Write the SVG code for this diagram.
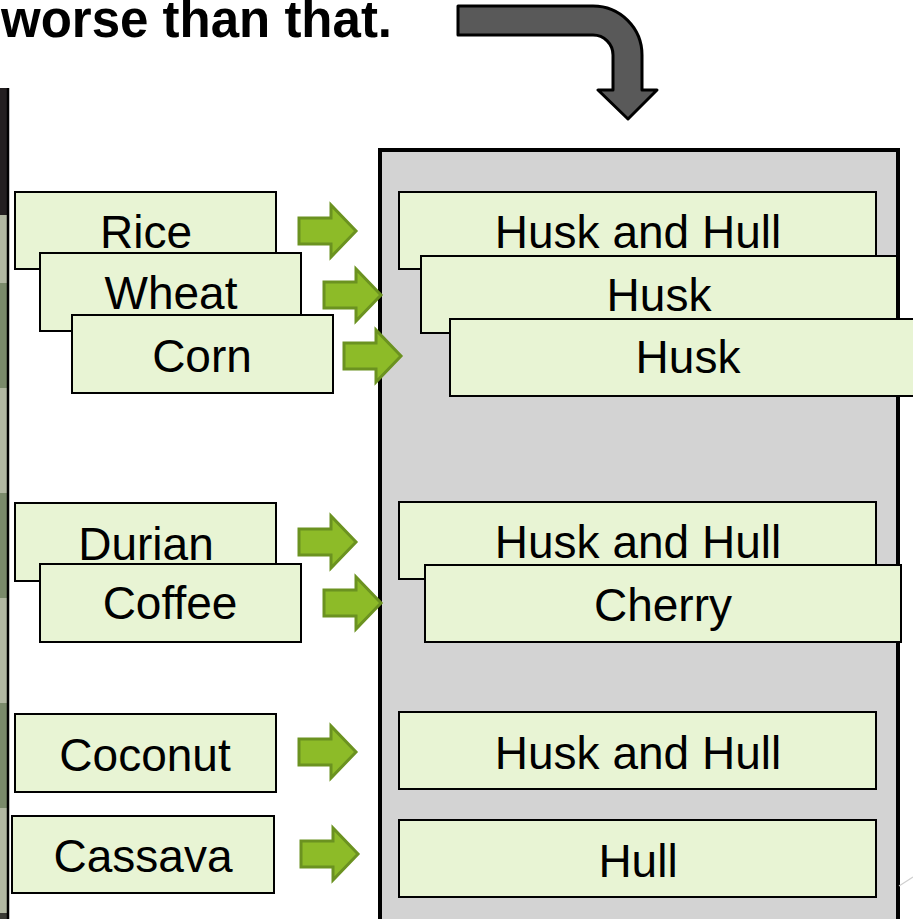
<svg xmlns="http://www.w3.org/2000/svg" width="913" height="919" viewBox="0 0 913 919">
<style>
.box{fill:#e8f4d4;stroke:#000;stroke-width:2}
.lbl{font-family:"Liberation Sans",Arial,sans-serif;font-size:46px;fill:#000;text-anchor:middle}
.ga{fill:#8dbb28;stroke:#6b9220;stroke-width:3;stroke-linejoin:miter}
</style>
<defs>
<path id="garrow" d="M0,-13 L32,-13 L32,-26 L57,0 L32,26 L32,13 L0,13 Z"/>
</defs>
<rect x="0" y="0" width="913" height="919" fill="#fff"/>

<g id="sidebar">
<rect x="0" y="88" width="8" height="127" fill="#231f20"/>
<rect x="0" y="215" width="8" height="68" fill="#b1b7a1"/>
<rect x="0" y="283" width="8" height="105" fill="#7a8a6a"/>
<rect x="0" y="388" width="8" height="105" fill="#b1b7a1"/>
<rect x="0" y="493" width="8" height="105" fill="#7a8a6a"/>
<rect x="0" y="598" width="8" height="105" fill="#b1b7a1"/>
<rect x="0" y="703" width="8" height="105" fill="#7a8a6a"/>
<rect x="0" y="808" width="8" height="105" fill="#b1b7a1"/>
<rect x="0" y="913" width="8" height="6" fill="#3a3a34"/>
<line x1="8" y1="88" x2="8" y2="919" stroke="#000" stroke-width="2.5"/>
</g>

<g id="title">
<text x="1" y="37" font-family="'Liberation Sans',Arial,sans-serif" font-size="51" font-weight="bold" fill="#000">worse than that.</text>
</g>

<g id="bent-arrow">
<path d="M458,6 L593,6 A49,49 0 0 1 642,55 L642,90 L657,90 L628,119 L598,90 L613,90 L613,55 A20,20 0 0 0 593,35 L458,35 Z" fill="#595959" stroke="#000" stroke-width="3" stroke-linejoin="round"/>
</g>

<g id="outcome-panel">
<rect x="380" y="150" width="518" height="820" fill="#d3d3d3" stroke="#000" stroke-width="4"/>
<line x1="899" y1="886" x2="913" y2="877" stroke="#d0d0d0" stroke-width="1.2"/>
</g>

<g id="rice"><rect class="box" x="15" y="192" width="261" height="77"/><text class="lbl" x="146" y="248">Rice</text></g>
<g id="wheat"><rect class="box" x="40" y="253" width="261" height="78"/><text class="lbl" x="171" y="309">Wheat</text></g>
<g id="corn"><rect class="box" x="72" y="315" width="261" height="78"/><text class="lbl" x="202" y="372">Corn</text></g>

<g id="durian"><rect class="box" x="15" y="503" width="261" height="78"/><text class="lbl" x="146" y="560">Durian</text></g>
<g id="coffee"><rect class="box" x="40" y="564" width="261" height="78"/><text class="lbl" x="170" y="619">Coffee</text></g>

<g id="coconut"><rect class="box" x="15" y="714" width="261" height="78"/><text class="lbl" x="145" y="771">Coconut</text></g>
<g id="cassava"><rect class="box" x="12" y="816" width="262" height="77"/><text class="lbl" x="143" y="872">Cassava</text></g>

<g id="rice-out"><rect class="box" x="399" y="192" width="477" height="77"/><text class="lbl" x="638" y="248">Husk and Hull</text></g>
<g id="wheat-out"><rect class="box" x="421" y="256" width="476" height="77"/><text class="lbl" x="659" y="311">Husk</text></g>
<g id="corn-out"><rect class="box" x="450" y="319" width="476" height="77"/><text class="lbl" x="688" y="373">Husk</text></g>

<g id="durian-out"><rect class="box" x="399" y="502" width="477" height="77"/><text class="lbl" x="638" y="558">Husk and Hull</text></g>
<g id="coffee-out"><rect class="box" x="425" y="565" width="476" height="77"/><text class="lbl" x="663" y="621">Cherry</text></g>

<g id="coconut-out"><rect class="box" x="399" y="712" width="477" height="77"/><text class="lbl" x="638" y="769">Husk and Hull</text></g>
<g id="cassava-out"><rect class="box" x="399" y="820" width="477" height="77"/><text class="lbl" x="638" y="877">Hull</text></g>

<g id="connectors">
<use href="#garrow" class="ga" transform="translate(299,231)"/>
<use href="#garrow" class="ga" transform="translate(324,295)"/>
<use href="#garrow" class="ga" transform="translate(344,356)"/>
<use href="#garrow" class="ga" transform="translate(299,542)"/>
<use href="#garrow" class="ga" transform="translate(324,603)"/>
<use href="#garrow" class="ga" transform="translate(299,752)"/>
<use href="#garrow" class="ga" transform="translate(301,854)"/>
</g>
</svg>
